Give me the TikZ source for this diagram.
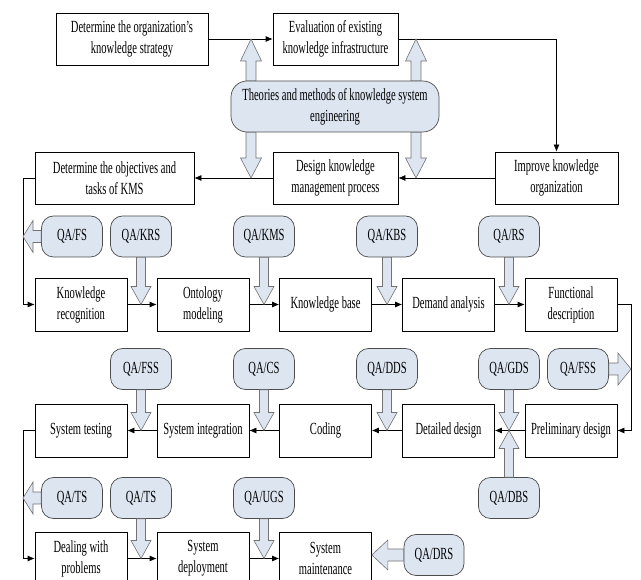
\documentclass[tikz,border=0pt]{standalone}
\usepackage{fontspec}
\usetikzlibrary{arrows.meta,calc}
\newfontfamily\figfont[FakeStretch=0.62]{Liberation Serif}
\newcommand{\figtext}{\figfont\fontsize{17pt}{21pt}\selectfont}
\definecolor{qafill}{RGB}{221,229,241}
% hollow block arrow: start, tip, shaft half width, head half width, head length
\newcommand{\blockarrow}[5]{%
  \path (#1) coordinate (ba-s) (#2) coordinate (ba-t) ($(ba-t)!#5!(ba-s)$) coordinate (ba-h);
  \draw[qaarrow] ($(ba-s)!#3!90:(ba-t)$) -- ($(ba-h)!#3!-90:(ba-s)$) -- ($(ba-h)!#4!-90:(ba-s)$)
    -- (ba-t) -- ($(ba-h)!#4!90:(ba-s)$) -- ($(ba-h)!#3!90:(ba-s)$) -- ($(ba-s)!#3!-90:(ba-t)$) -- cycle;}
\begin{document}
\begin{tikzpicture}[
    x=1pt, y=-1pt,
    box/.style={draw, line width=0.7pt, fill=white, minimum width=92pt, minimum height=53pt, inner sep=1pt, align=center, font=\figtext},
    qa/.style={draw=black!70, line width=0.7pt, fill=qafill, rounded corners=12pt, minimum width=61pt, minimum height=41pt, inner sep=1pt, align=center, font=\figtext},
    flow/.style={-{Latex[length=7pt,width=6pt]}, line width=0.7pt},
    qaarrow/.style={draw=black!55, fill=qafill, line width=0.6pt}
]
\clip (0,0) rectangle (641,580);
% Strategy level
\node[box, minimum width=152pt, minimum height=52pt] (strat) at (132,39) {Determine the organization’s\\knowledge strategy};
\node[box, minimum width=125pt, minimum height=52pt] (infra) at (335.5,39) {Evaluation of existing\\knowledge infrastructure};
\node[qa, rounded corners=16pt, minimum width=208pt, minimum height=51pt] (theory) at (335,106.5) {Theories and methods of knowledge system\\engineering};
\node[box, minimum width=159pt, minimum height=52pt] (goals) at (114.5,178) {Determine the objectives and\\tasks of KMS};
\node[box, minimum width=125pt, minimum height=52pt] (kmproc) at (335.5,178) {Design knowledge\\management process};
\node[box, minimum width=123pt, minimum height=52pt] (korg) at (556.5,178) {Improve knowledge\\organization};
% Knowledge engineering row
\node[qa] (qafs) at (72,236.5) {QA/FS};
\node[qa] (qakrs) at (141,236.5) {QA/KRS};
\node[qa] (qakms) at (264,236.5) {QA/KMS};
\node[qa] (qakbs) at (387,236.5) {QA/KBS};
\node[qa] (qars) at (509,236.5) {QA/RS};
\node[box] (krec) at (81,304.5) {Knowledge\\recognition};
\node[box] (onto) at (203,304.5) {Ontology\\modeling};
\node[box] (kbase) at (325.5,304.5) {Knowledge base};
\node[box] (dana) at (448.5,304.5) {Demand analysis};
\node[box] (fdesc) at (571,304.5) {Functional\\description};
% Design and coding row
\node[qa] (qafss) at (141,369) {QA/FSS};
\node[qa] (qacs) at (264,369) {QA/CS};
\node[qa] (qadds) at (387,369) {QA/DDS};
\node[qa] (qagds) at (509,369) {QA/GDS};
\node[qa] (qafssb) at (578,369) {QA/FSS};
\node[box] (stest) at (81,430.5) {System testing};
\node[box] (sint) at (203,430.5) {System integration};
\node[box] (coding) at (325.5,430.5) {Coding};
\node[box] (ddes) at (448.5,430.5) {Detailed design};
\node[box] (pdes) at (571,430.5) {Preliminary design};
\node[qa] (qadbs) at (509,498) {QA/DBS};
% Operation row
\node[qa] (qats) at (72,498) {QA/TS};
\node[qa] (qatsb) at (141,498) {QA/TS};
\node[qa] (qaugs) at (264,498) {QA/UGS};
\node[box] (dwp) at (81,558.5) {Dealing with\\problems};
\node[box] (sdep) at (203,558.5) {System\\deployment};
\node[box] (smaint) at (325.5,558.5) {System\\maintenance};
\node[qa, minimum width=60pt] (qadrs) at (434,555) {QA/DRS};
\coordinate (lft) at (23,0);
\coordinate (rgt) at (631,0);
% Process flow
\draw[flow] (strat) -- (infra);
\draw[flow] (infra) -| (korg);
\draw[flow] (korg) -- (kmproc);
\draw[flow] (kmproc) -- (goals);
\draw[flow] (goals.west) -- (goals.west -| lft) |- (krec.west);
\draw[flow] (krec) -- (onto);
\draw[flow] (onto) -- (kbase);
\draw[flow] (kbase) -- (dana);
\draw[flow] (dana) -- (fdesc);
\draw[flow] (fdesc.east) -- (fdesc.east -| rgt) |- (pdes.east);
\draw[flow] (pdes) -- (ddes);
\draw[flow] (ddes) -- (coding);
\draw[flow] (coding) -- (sint);
\draw[flow] (sint) -- (stest);
\draw[flow] (stest.west) -- (stest.west -| lft) |- (dwp.west);
\draw[flow] (dwp) -- (sdep);
\draw[flow] (sdep) -- (smaint);
% Theory support
\coordinate (tul) at ([xshift=-84pt]theory.north);
\coordinate (tur) at ([xshift=81pt]theory.north);
\coordinate (tdl) at ([xshift=-84pt]theory.south);
\coordinate (tdr) at ([xshift=81pt]theory.south);
\blockarrow{tul}{tul |- strat.east}{5pt}{10.5pt}{22pt}
\blockarrow{tur}{tur |- strat.east}{5pt}{10.5pt}{22pt}
\blockarrow{tdl}{tdl |- goals.east}{5pt}{10.5pt}{20pt}
\blockarrow{tdr}{tdr |- goals.east}{5pt}{10.5pt}{20pt}
% Quality assurance inputs
\blockarrow{qafs.west}{qafs.west -| lft}{6pt}{16pt}{10pt}
\blockarrow{qakrs.south}{qakrs.south |- krec.east}{4.5pt}{10pt}{18pt}
\blockarrow{qakms.south}{qakms.south |- onto.east}{4.5pt}{10pt}{18pt}
\blockarrow{qakbs.south}{qakbs.south |- kbase.east}{4.5pt}{10pt}{18pt}
\blockarrow{qars.south}{qars.south |- dana.east}{4.5pt}{10pt}{18pt}
\blockarrow{qafss.south}{qafss.south |- stest.east}{4.5pt}{10pt}{18pt}
\blockarrow{qacs.south}{qacs.south |- sint.east}{4.5pt}{10pt}{18pt}
\blockarrow{qadds.south}{qadds.south |- coding.east}{4.5pt}{10pt}{18pt}
\blockarrow{qagds.south}{qagds.south |- ddes.east}{4.5pt}{10pt}{18pt}
\blockarrow{qadbs.north}{qadbs.north |- ddes.east}{4.5pt}{10pt}{18pt}
\blockarrow{qafssb.east}{qafssb.east -| rgt}{6pt}{16pt}{13pt}
\blockarrow{qats.west}{qats.west -| lft}{6pt}{16pt}{10pt}
\blockarrow{qatsb.south}{qatsb.south |- dwp.east}{4.5pt}{10pt}{18pt}
\blockarrow{qaugs.south}{qaugs.south |- sdep.east}{4.5pt}{10pt}{18pt}
\blockarrow{qadrs.west}{qadrs.west -| smaint.east}{6pt}{15pt}{16pt}
\end{tikzpicture}
\end{document}
